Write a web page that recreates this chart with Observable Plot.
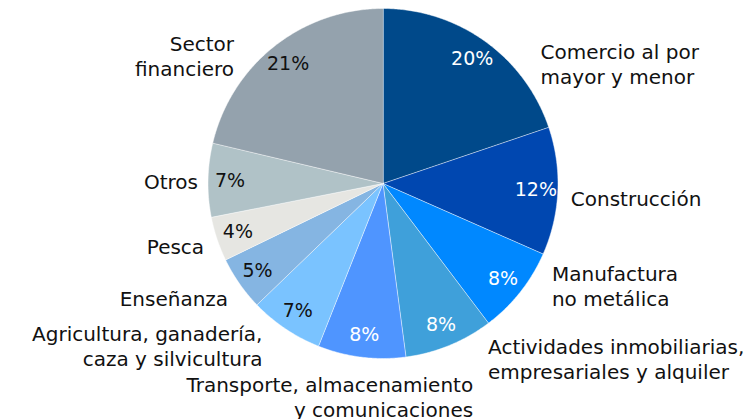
<!DOCTYPE html>
<html><head><meta charset="utf-8">
<script src="https://cdn.jsdelivr.net/npm/d3@7"></script>
<script src="https://cdn.jsdelivr.net/npm/@observablehq/plot@0.6"></script>
<style>body{margin:0;background:#fff}</style>
</head><body><div id="chart"></div>
<script>
const categories = ["Comercio al por\nmayor y menor","Construcción","Manufactura\nno metálica","Actividades inmobiliarias,\nempresariales y alquiler","Transporte, almacenamiento\ny comunicaciones","Agricultura, ganadería,\ncaza y silvicultura","Enseñanza","Pesca","Otros","Sector\nfinanciero"];
const shares = [19.8, 11.8, 8.1, 8.2, 8.1, 6.8, 5.0, 4.1, 6.8, 21.3];
const pctLabels = ["20%","12%","8%","8%","8%","7%","5%","4%","7%","21%"];
const colors = ["#00498a","#0047b0","#0088ff","#3fa0da","#4f95ff","#7ac3ff","#85b5e2","#e6e6e2","#b0c2c7","#94a2ad"];
// label layout nudges (px, dx right / dy down) from the base polar position
const labelNudge = [[44,38],[-7,6],[16,-19],[31,-5],[114,19],[-12,0],[5,3],[6,0],[10,1],[-28,25]];

const W = 751, H = 419, cx = 382.5, cy = 183, R = 175;
const total = d3.sum(shares);
let cum = 0;
const slices = shares.map((v, i) => {
  const a0 = cum / total * 2 * Math.PI; cum += v;
  const a1 = cum / total * 2 * Math.PI;
  return {i, name: categories[i], a0, a1, mid: (a0 + a1) / 2};
});
const pts = [];
for (const s of slices) {
  pts.push({name: s.name, x: 0, y: 0});
  const n = Math.max(2, Math.ceil((s.a1 - s.a0) / (Math.PI / 360)));
  for (let k = 0; k <= n; k++) {
    const a = s.a0 + (s.a1 - s.a0) * k / n;
    pts.push({name: s.name, x: Math.sin(a), y: Math.cos(a)});
  }
}
const rPct = 153 / R, rLab = 195 / R;
const pct = slices.map(s => ({
  text: pctLabels[s.i], x: rPct * Math.sin(s.mid), y: rPct * Math.cos(s.mid),
  dark: d3.lab(colors[s.i]).l < 64
}));
const labs = slices.map(s => ({
  text: s.name,
  x: rLab * Math.sin(s.mid) + labelNudge[s.i][0] / R,
  y: rLab * Math.cos(s.mid) - labelNudge[s.i][1] / R,
  right: Math.sin(s.mid) > 0
}));
const font = "DejaVu Sans";
const chart = Plot.plot({
  width: W, height: H, margin: 0,
  x: {domain: [-cx / R, (W - cx) / R], axis: null},
  y: {domain: [-(H - cy) / R, cy / R], axis: null},
  color: {domain: categories, range: colors},
  marks: [
    Plot.line(pts, {x: "x", y: "y", z: "name", fill: "name", stroke: "white", strokeWidth: 0.8, strokeOpacity: 0.6, curve: "linear-closed"}),
    Plot.text(pct.filter(d => d.dark), {x: "x", y: "y", text: "text", fill: "white", fontSize: 19, fontFamily: font}),
    Plot.text(pct.filter(d => !d.dark), {x: "x", y: "y", text: "text", fill: "#111", fontSize: 19, fontFamily: font}),
    Plot.text(labs.filter(d => d.right), {x: "x", y: "y", text: "text", textAnchor: "start", fill: "#111", fontSize: 20, lineHeight: 1.25, fontFamily: font}),
    Plot.text(labs.filter(d => !d.right), {x: "x", y: "y", text: "text", textAnchor: "end", fill: "#111", fontSize: 20, lineHeight: 1.25, fontFamily: font})
  ]
});
document.getElementById("chart").appendChild(chart);
</script></body></html>
